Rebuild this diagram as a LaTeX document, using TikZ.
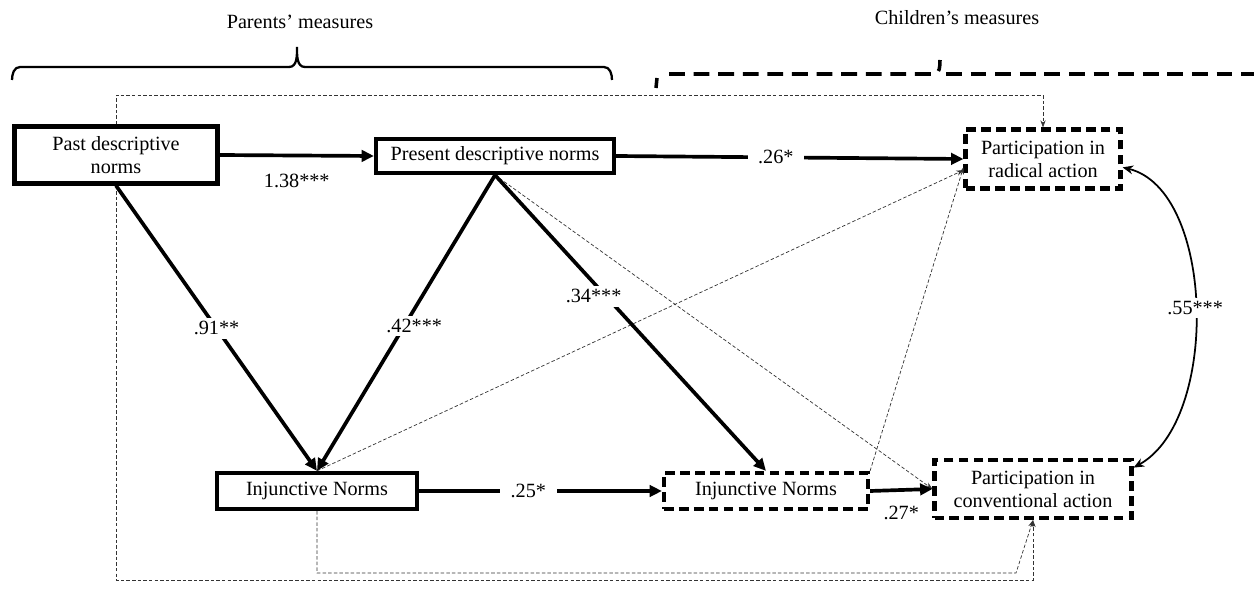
\documentclass[tikz,border=0pt]{standalone}
\usepackage{fontspec}
\setmainfont{Liberation Serif}
\usetikzlibrary{arrows.meta}

\begin{document}
\begin{tikzpicture}[x=0.02cm,y=-0.02cm,font=\fontsize{11.5}{13}\selectfont,
  solidbox/.style={draw,line width=2.4pt,align=center,inner sep=2pt},
  dashbox/.style={solidbox,dash pattern=on 5.5pt off 3pt},
  effect/.style={line width=2.1pt,-{Triangle[length=7pt,width=6.5pt]}},
  noeffect/.style={draw=black!80,line width=0.4pt,dash pattern=on 2pt off 1.2pt,-{Stealth[length=4pt,width=3pt]}},
  coef/.style={fill=white,inner xsep=6pt,inner ysep=2pt}]
\useasboundingbox (0,0) rectangle (1254,594);

\node (parents) at (300,22) {Parents’ measures};
\node (children) at (957,18) {Children’s measures};
\draw[line width=1.3pt] (12,80) to[out=90,in=180] (20,67) -- (289,67) to[out=0,in=-90] (297,47) to[out=-90,in=180] (305,67) -- (604,67) to[out=0,in=90] (612,80);
\draw[line width=2pt] (657,78) -- (656,88);
\draw[line width=2pt,dash pattern=on 9pt off 5pt] (669,74) -- (934,74) to[out=0,in=-90] (940,60);
\draw[line width=2pt,dash pattern=on 9pt off 5pt] (946,74) -- (1254,74);

\node[solidbox,minimum width=4.06cm,minimum height=1.14cm] (past) at (116,155) {Past descriptive\\norms};
\node[solidbox,minimum width=4.76cm,minimum height=0.68cm] (present) at (495,156) {Present descriptive norms};
\node[dashbox,minimum width=3.1cm,minimum height=1.18cm] (radical) at (1043,159) {Participation in\\radical action};
\node[solidbox,minimum width=4cm,minimum height=0.72cm] (injP) at (317,491) {Injunctive Norms};
\node[dashbox,minimum width=4.08cm,minimum height=0.72cm] (injC) at (766,491) {Injunctive Norms};
\node[dashbox,minimum width=3.94cm,minimum height=1.16cm] (conv) at (1033,489) {Participation in\\conventional action};

\coordinate (lowO) at (0,580);
\coordinate (lowI) at (1016,573);
\draw[noeffect] (past.north) -- ++(0,-29) -| (radical.north);
\draw[noeffect] (past.south) |- (conv.south |- lowO) -- (conv.south);
\draw[noeffect] (injP.south) |- (lowI) -- (conv.south);
\draw[noeffect] (present.south) -- (conv.west);
\draw[noeffect] (injP.north) -- (radical.188);
\draw[noeffect] (injC.north east) -- (radical.186);

\draw[effect] (past.east) -- node[below=6pt]{1.38***} (present.west);
\draw[effect] (present.east) -- node[coef,pos=0.46]{.26*} (radical.west);
\draw[effect] (past.south) -- node[coef]{.91**} (injP.north);
\draw[effect] (present.south) -- node[coef,pos=0.51,xshift=0.2cm]{.42***} (injP.north);
\draw[effect] (present.south) -- node[coef,pos=0.41,xshift=-0.25cm]{.34***} (injC.north);
\draw[effect] (injP.east) -- node[coef,pos=0.45]{.25*} (injC.west);
\draw[effect] (injC.east) -- node[below=5pt]{.27*} (conv.west);
\draw[line width=1pt,{Stealth[length=6pt,width=5pt]}-{Stealth[length=6pt,width=5pt]}] (radical.-6) .. controls (1215,190) and (1220,420) .. node[coef,pos=0.5]{.55***} (conv.12);
\end{tikzpicture}
\end{document}
